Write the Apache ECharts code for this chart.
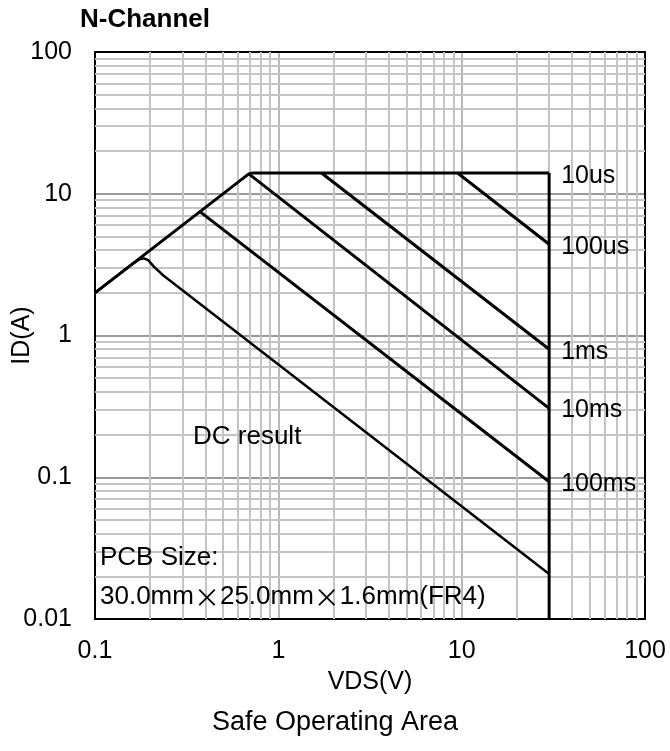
<!DOCTYPE html>
<html><head><meta charset="utf-8">
<script src="https://cdn.jsdelivr.net/npm/echarts@6/dist/echarts.min.js"></script>
<style>html,body{margin:0;padding:0;background:#fff}#c{width:670px;height:751px}</style>
</head><body><div id="c"></div>
<script>
// ---- data ----
const xTickLabels = ['0.1', '1', '10', '100'];
const yTickLabels = ['0.01', '0.1', '1', '10', '100'];
const minorX = [0.2,0.3,0.4,0.5,0.6,0.7,0.8,0.9, 2,3,4,5,6,7,8,9, 20,30,40,50,60,70,80,90];
const minorY = [0.02,0.03,0.04,0.05,0.06,0.07,0.08,0.09, 0.2,0.3,0.4,0.5,0.6,0.7,0.8,0.9, 2,3,4,5,6,7,8,9, 20,30,40,50,60,70,80,90];
const limitRds   = [[0.1, 2], [0.69, 13.8], [0.72, 14]];
const pulse10us  = [[0.72, 14], [30, 14]];
const vdsLimit   = [[30, 14], [30, 0.01]];
const pulse100us = [[9.5, 14], [30, 4.4]];
const pulse1ms   = [[1.72, 14], [30, 0.8]];
const pulse10ms  = [[0.69, 13.8], [30, 0.306]];
const pulse100ms = [[0.375, 7.45], [30, 0.093]];
const dcResult   = [[0.1, 2], [0.16, 3.2], [0.175, 3.45], [0.185, 3.5], [0.195, 3.4], [0.21, 3.05], [0.236, 2.65], [30, 0.0208]];

const FONT = '"Liberation Sans", Arial, sans-serif';
const chart = echarts.init(document.getElementById('c'), null, {renderer: 'canvas'});

function fmt(v, labels) {
  const s = Number(v.toPrecision(3)).toString();
  return labels.includes(s) ? s : '';
}
function pulse(name, data, dy) {
  return {
    name: name, type: 'line', data: data, symbol: 'none', z: 5,
    lineStyle: {color: '#000', width: 3}, silent: true,
    endLabel: {show: true, formatter: name, color: '#000', fontSize: 25, fontFamily: FONT, distance: 12, offset: [0, dy]}
  };
}

const option = {
  animation: false,
  backgroundColor: '#fff',
  grid: {left: 95, right: 25, top: 52, bottom: 132, containLabel: false, outerBoundsMode: 'none'},
  xAxis: [{
    type: 'log', logBase: 10, min: 0.1, max: 100,
    name: 'VDS(V)', nameLocation: 'middle', nameGap: 51, nameMoveOverlap: false,
    nameTextStyle: {color: '#000', fontSize: 25, fontFamily: FONT},
    axisLine: {show: true, lineStyle: {color: '#000', width: 2}},
    axisTick: {show: false},
    axisLabel: {color: '#000', fontSize: 25, fontFamily: FONT, margin: 20, formatter: v => fmt(v, xTickLabels)},
    splitLine: {show: true, lineStyle: {color: '#b8b8b8', width: 2}},
    minorTick: {show: false}, minorSplitLine: {show: false}
  }, {
    type: 'log', logBase: 10, min: 0.1, max: 100, position: 'top',
    axisLine: {show: true, lineStyle: {color: '#000', width: 2}},
    axisTick: {show: false}, axisLabel: {show: false}, splitLine: {show: false}
  }],
  yAxis: [{
    type: 'log', logBase: 10, min: 0.01, max: 100,
    name: 'ID(A)', nameLocation: 'middle', nameGap: 60, nameMoveOverlap: false,
    nameTextStyle: {color: '#000', fontSize: 25, fontFamily: FONT},
    axisLine: {show: true, lineStyle: {color: '#000', width: 2}},
    axisTick: {show: false},
    axisLabel: {color: '#000', fontSize: 25, fontFamily: FONT, margin: 23, formatter: v => fmt(v, yTickLabels)},
    splitLine: {show: true, lineStyle: {color: '#9a9a9a', width: 2}},
    minorTick: {show: false}, minorSplitLine: {show: false}
  }, {
    type: 'log', logBase: 10, min: 0.01, max: 100, position: 'right',
    axisLine: {show: true, lineStyle: {color: '#000', width: 2}},
    axisTick: {show: false}, axisLabel: {show: false}, splitLine: {show: false}
  }],
  series: [
    {
      name: 'grid', type: 'line', data: [[0.1, 0.01]], symbol: 'none', silent: true, z: 1,
      lineStyle: {width: 0},
      markLine: {
        silent: true, symbol: 'none', label: {show: false}, animation: false,
        lineStyle: {color: '#c4c4c4', width: 2, type: 'solid'},
        data: minorX.map(v => ({xAxis: v})).concat(minorY.map(v => ({yAxis: v})))
      }
    },
    {name: 'Rds', type: 'line', data: limitRds, symbol: 'none', z: 5, silent: true, lineStyle: {color: '#000', width: 3}},
    {name: 'VDS', type: 'line', data: vdsLimit, symbol: 'none', z: 5, silent: true, lineStyle: {color: '#000', width: 3}},
    pulse('10us', pulse10us, 3),
    pulse('100us', pulse100us, 3),
    pulse('1ms', pulse1ms, 3),
    pulse('10ms', pulse10ms, 2),
    pulse('100ms', pulse100ms, 2),
    {name: 'DC', type: 'line', data: dcResult, symbol: 'none', z: 5, silent: true, lineStyle: {color: '#000', width: 2.5}}
  ],
  graphic: [
    {type: 'text', left: 80, top: 7, style: {text: 'N-Channel', fill: '#000', font: 'bold 26px ' + FONT}},
    {type: 'text', left: 193, top: 424, z: 10, style: {text: 'DC result', fill: '#000', font: '26px ' + FONT}},
    {type: 'text', left: 100, top: 545, z: 10, style: {text: 'PCB Size:', fill: '#000', font: '26px ' + FONT}},
    {type: 'text', left: 100, top: 584, z: 10, style: {
      text: '{a|30.0mm}{x|×}{a|25.0mm}{x|×}{a|1.6mm(FR4)}',
      rich: {
        a: {fontSize: 26, fontFamily: FONT, fill: '#000', color: '#000'},
        x: {fontSize: 26, fontFamily: '"Noto Sans CJK JP", sans-serif', fill: '#000', color: '#000'}
      }
    }},
    {type: 'text', left: 'center', top: 709, style: {text: 'Safe Operating Area', fill: '#000', font: '27px ' + FONT}}
  ]
};
chart.setOption(option);
</script>
</body></html>
